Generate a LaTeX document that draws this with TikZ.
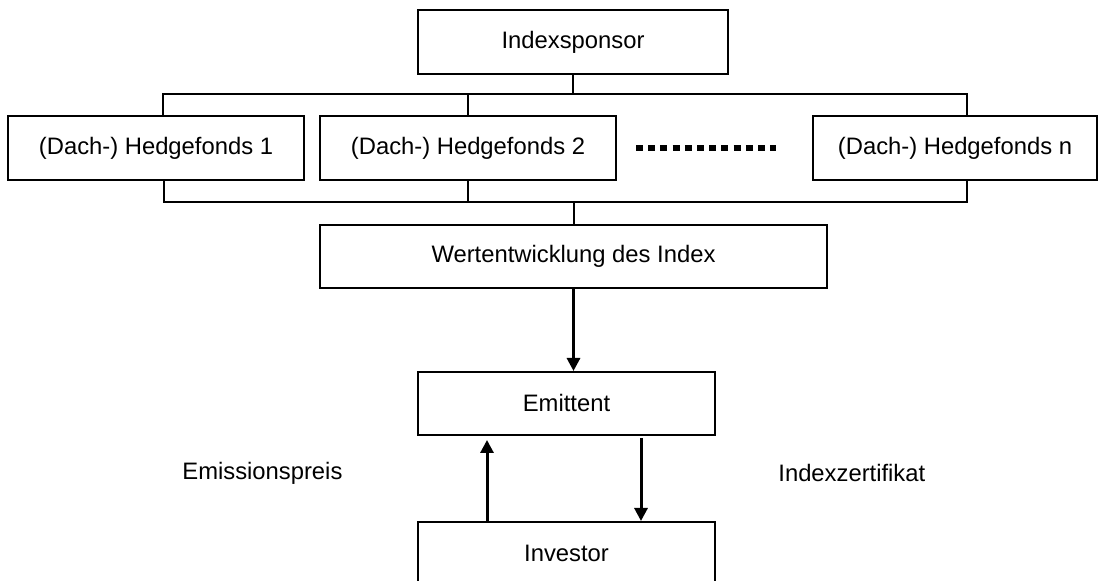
\documentclass[tikz,border=0pt]{standalone}
\usepackage{fontspec}
\setmainfont{Liberation Sans}
\usetikzlibrary{arrows.meta}
\begin{document}
\begin{tikzpicture}[x=0.5pt,y=-0.5pt,
		box/.style={draw,line width=1pt,minimum height=32pt,inner sep=0pt,font=\fontsize{11.9}{14}\selectfont},
		lbl/.style={font=\fontsize{11.9}{14}\selectfont,inner sep=0pt},
		link/.style={line width=1pt},
		flow/.style={line width=1.5pt,-{Triangle[length=6.5pt,width=6.5pt]}}]
		\useasboundingbox (0,0) rectangle (1099,581);

		% top: sponsor and the funds
		\node[box,minimum width=155pt] (sponsor) at (573,42) {Indexsponsor};
		\node[box,minimum width=148pt] (hf1) at (156,148) {(Dach-) Hedgefonds 1};
		\node[box,minimum width=148pt] (hf2) at (468,148) {(Dach-) Hedgefonds 2};
		\node[box,minimum width=142pt] (hfn) at (955,148) {(Dach-) Hedgefonds n};
		\draw[line width=2.8pt,dash pattern=on 3.5pt off 2.6pt] ([xshift=9.5pt]hf2.east) -- ([xshift=-18pt]hfn.west);

		\coordinate (topL) at (163,94);
		\coordinate (topR) at (967,94);
		\coordinate (botL) at (164,202);
		\coordinate (botR) at (967,202);
		\draw[link] (sponsor.south) -- (sponsor.south |- topL);
		\draw[link] (topL |- hf1.north) -- (topL) -- (topR) -- (topR |- hfn.north);
		\draw[link] (hf2.north) -- (hf2.north |- topL);
		\draw[link] (botL |- hf1.south) -- (botL) -- (botR) -- (botR |- hfn.south);
		\draw[link] (hf2.south) -- (hf2.south |- botL);

		% index, issuer and investor
		\node[box,minimum width=253.5pt,minimum height=31.5pt] (wert) at (573.5,256.5) {Wertentwicklung des Index};
		\node[box,minimum width=148.5pt,minimum height=31.5pt] (emit) at (566.5,403.5) {Emittent};
		\node[box,minimum width=148.5pt,minimum height=31.5pt] (inv) at (566.5,553.5) {Investor};
		\draw[link] (wert.north) -- (wert.north |- botL);
		\draw[flow] (wert.south) -- (wert.south |- emit.north);
		\draw[flow] ([xshift=-39.75pt]inv.north) -- ([xshift=-39.75pt,yshift=-2pt]emit.south);
		\draw[flow] ([xshift=37.25pt,yshift=-1pt]emit.south) -- ([xshift=37.25pt]inv.north);

		\node[lbl,anchor=west] (preis) at (182,473) {Emissionspreis};
		\node[lbl,anchor=west] (zert) at (778,473) {Indexzertifikat};
	\end{tikzpicture}
\end{document}
